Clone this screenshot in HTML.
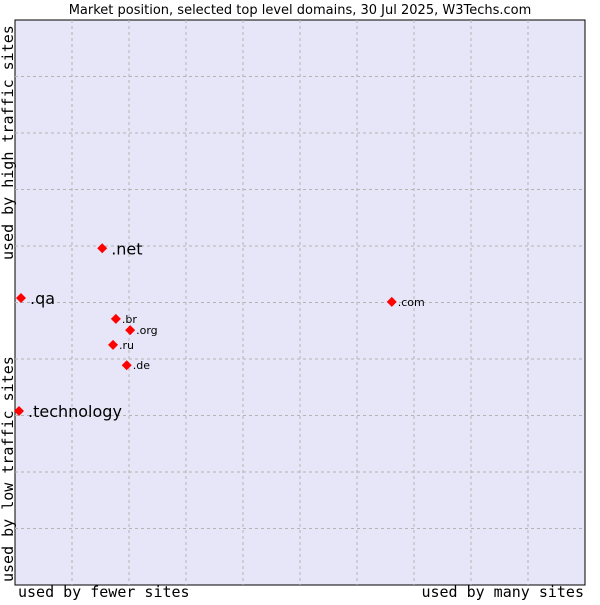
<!DOCTYPE html>
<html><head><meta charset="utf-8"><style>
body{margin:0;background:#fff;width:600px;height:600px;overflow:hidden}
</style></head><body>
<svg width="600" height="600" xmlns="http://www.w3.org/2000/svg">
<text x="300" y="14" text-anchor="middle" font-family="DejaVu Sans, sans-serif" font-size="13">Market position, selected top level domains, 30 Jul 2025, W3Techs.com</text>
<rect x="15" y="20" width="570" height="565" fill="#e6e6f8" stroke="#000" stroke-width="1"/>
<g id="grid"></g>
<g id="pts"></g>
<text x="18" y="597" font-family="DejaVu Sans Mono, monospace" font-size="15">used by fewer sites</text>
<text x="584" y="597" text-anchor="end" font-family="DejaVu Sans Mono, monospace" font-size="15">used by many sites</text>
<text transform="translate(13,260) rotate(-90)" font-family="DejaVu Sans Mono, monospace" font-size="15">used by high traffic sites</text>
<text transform="translate(13,582) rotate(-90)" font-family="DejaVu Sans Mono, monospace" font-size="15">used by low traffic sites</text>
</svg>
<script>
const names=[".net",".qa",".br",".org",".ru",".de",".technology",".com"];
const xs=[15.3,1.05,17.7,20.2,17.2,19.6,0.7,66.1];
const ys=[59.6,50.8,47.1,45.1,42.5,38.9,30.8,50.1];
const big=[true,true,false,false,false,false,true,false];
const NS="http://www.w3.org/2000/svg";
const X=v=>15+v*5.7, Y=v=>585-v*5.65;
const g=document.getElementById('grid');
for(let i=1;i<10;i++){
  const lx=document.createElementNS(NS,'line');
  lx.setAttribute('x1',X(i*10));lx.setAttribute('x2',X(i*10));lx.setAttribute('y1',20);lx.setAttribute('y2',585);
  lx.setAttribute('stroke','#b4b4b4');lx.setAttribute('stroke-dasharray','3,3');
  
  
  g.appendChild(lx);
  const ly=document.createElementNS(NS,'line');
  ly.setAttribute('y1',Y(i*10));ly.setAttribute('y2',Y(i*10));ly.setAttribute('x1',15);ly.setAttribute('x2',585);
  ly.setAttribute('stroke','#b4b4b4');ly.setAttribute('stroke-dasharray','3,3');
  
  
  g.appendChild(ly);
}
const p=document.getElementById('pts');
names.forEach((n,i)=>{
  const cx=X(xs[i]),cy=Y(ys[i]);
  const d=document.createElementNS(NS,'polygon');
  d.setAttribute('points',`${cx},${cy-5} ${cx+5},${cy} ${cx},${cy+5} ${cx-5},${cy}`);
  d.setAttribute('fill','#f00');
  
  
  p.appendChild(d);
  const t=document.createElementNS(NS,'text');
  t.setAttribute('x',cx+(big[i]?9:6));t.setAttribute('y',cy+(big[i]?6:4));
  t.setAttribute('font-family','DejaVu Sans, sans-serif');
  t.setAttribute('font-size',big[i]?16:11);
  t.textContent=n;
  
  
  p.appendChild(t);
});
</script>
</body></html>
